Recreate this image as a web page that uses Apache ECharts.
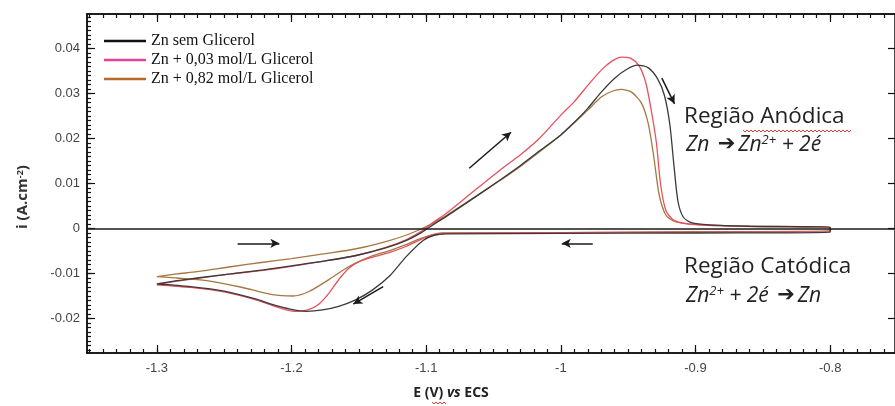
<!DOCTYPE html>
<html><head><meta charset="utf-8">
<script src="https://cdn.jsdelivr.net/npm/echarts@6/dist/echarts.min.js"></script>
<style>html,body{margin:0;padding:0;background:#fff}#c{width:895px;height:406px}</style>
</head><body><div id="c"></div>
<script>
// ---------- data ----------
const seriesNames = ['Zn sem Glicerol', 'Zn + 0,03 mol/L Glicerol', 'Zn + 0,82 mol/L Glicerol'];
const xTickLabels = [-1.3, -1.2, -1.1, -1.0, -0.9, -0.8];
const yTickLabels = [-0.02, -0.01, 0, 0.01, 0.02, 0.03, 0.04];

// Zn sem Glicerol : anodic (forward) sweep then cathodic (reverse) sweep  [E (V), i (A.cm-2)]
const blackForward = [
  [-1.300,-0.0123],[-1.285,-0.0116],[-1.270,-0.0110],[-1.245,-0.0101],[-1.221,-0.0092],
  [-1.200,-0.0083],[-1.175,-0.0072],[-1.152,-0.0060],[-1.130,-0.0043],[-1.115,-0.0027],
  [-1.103,-0.0008],[-1.095,0.0008],[-1.085,0.0027],[-1.070,0.0057],[-1.046,0.0106],
  [-1.030,0.0140],[-1.016,0.0172],[-1.000,0.0208],[-0.990,0.0236],[-0.980,0.0267],
  [-0.970,0.0303],[-0.960,0.0334],[-0.951,0.0354],[-0.943,0.0363],[-0.935,0.0357],
  [-0.928,0.0332],[-0.923,0.0295],[-0.919,0.0230],[-0.916,0.0140],[-0.913,0.0060],
  [-0.909,0.0025],[-0.903,0.0013],[-0.890,0.0008],[-0.860,0.0005],[-0.830,0.0004],[-0.800,0.0003]
];
const blackReverse = [
  [-0.800,-0.0009],[-0.900,-0.0010],[-1.000,-0.0011],[-1.085,-0.0012],[-1.094,-0.0015],
  [-1.102,-0.0026],[-1.115,-0.0063],[-1.127,-0.0105],[-1.140,-0.0137],[-1.152,-0.0158],
  [-1.165,-0.0173],[-1.177,-0.0181],[-1.189,-0.0184],[-1.201,-0.0179],[-1.215,-0.0168],
  [-1.226,-0.0157],[-1.250,-0.0139],[-1.275,-0.0129],[-1.300,-0.0123]
];
// Zn + 0,03 mol/L Glicerol
const redForward = [
  [-1.300,-0.0125],[-1.285,-0.0117],[-1.270,-0.0111],[-1.245,-0.0101],[-1.221,-0.0093],
  [-1.200,-0.0084],[-1.175,-0.0072],[-1.152,-0.0060],[-1.130,-0.0042],[-1.115,-0.0025],
  [-1.103,-0.0005],[-1.095,0.0013],[-1.085,0.0034],[-1.070,0.0070],[-1.046,0.0128],
  [-1.030,0.0164],[-1.016,0.0200],[-1.000,0.0252],[-0.990,0.0282],[-0.980,0.0318],
  [-0.970,0.0352],[-0.962,0.0372],[-0.955,0.0381],[-0.948,0.0378],[-0.942,0.0362],
  [-0.937,0.0325],[-0.933,0.0265],[-0.929,0.0190],[-0.926,0.0100],[-0.922,0.0040],
  [-0.916,0.0018],[-0.905,0.0010],[-0.880,0.0006],[-0.840,0.0004],[-0.800,0.0003]
];
const redReverse = [
  [-0.800,-0.0007],[-0.900,-0.0008],[-1.000,-0.0009],[-1.088,-0.0011],[-1.096,-0.0015],
  [-1.105,-0.0026],[-1.115,-0.0040],[-1.127,-0.0053],[-1.140,-0.0064],[-1.150,-0.0074],
  [-1.157,-0.0087],[-1.164,-0.0110],[-1.172,-0.0143],[-1.180,-0.0169],[-1.188,-0.0181],
  [-1.196,-0.0184],[-1.206,-0.0179],[-1.226,-0.0159],[-1.250,-0.0141],[-1.275,-0.0131],[-1.300,-0.0125]
];
// Zn + 0,82 mol/L Glicerol
const brownForward = [
  [-1.300,-0.0107],[-1.285,-0.0101],[-1.270,-0.0096],[-1.245,-0.0085],[-1.221,-0.0075],
  [-1.200,-0.0067],[-1.175,-0.0056],[-1.152,-0.0045],[-1.130,-0.0029],[-1.115,-0.0015],
  [-1.103,0.0000],[-1.095,0.0012],[-1.085,0.0029],[-1.070,0.0058],[-1.046,0.0105],
  [-1.030,0.0138],[-1.016,0.0170],[-1.000,0.0208],[-0.990,0.0235],[-0.980,0.0263],
  [-0.970,0.0292],[-0.962,0.0305],[-0.955,0.0309],[-0.947,0.0302],[-0.940,0.0278],
  [-0.935,0.0232],[-0.931,0.0160],[-0.927,0.0075],[-0.922,0.0030],[-0.915,0.0015],
  [-0.900,0.0009],[-0.860,0.0005],[-0.800,0.0003]
];
const brownReverse = [
  [-0.800,-0.0005],[-0.900,-0.0007],[-1.000,-0.0009],[-1.088,-0.0010],[-1.096,-0.0014],
  [-1.105,-0.0023],[-1.115,-0.0036],[-1.127,-0.0049],[-1.140,-0.0061],[-1.157,-0.0084],
  [-1.172,-0.0113],[-1.187,-0.0140],[-1.199,-0.0150],[-1.214,-0.0147],[-1.238,-0.0130],
  [-1.263,-0.0116],[-1.285,-0.0110],[-1.300,-0.0107]
];
// sweep-direction arrows [[E1,i1],[E2,i2]] (arrow head at the second point)
const sweepArrows = [
  [[-1.068, 0.0134], [-1.037, 0.0214]],
  [[-0.925, 0.0334], [-0.9156, 0.0277]],
  [[-1.240, -0.0033], [-1.209, -0.0033]],
  [[-0.9763, -0.0033], [-0.9993, -0.0033]],
  [[-1.1319, -0.0129], [-1.1541, -0.0168]]
];

// ---------- layout / style ----------
const X_MIN = -1.3 - 70 / 1350, X_MAX = -1.3 + 740 / 1350;
const Y_MIN = -0.02 - 34.5 / 4500, Y_MAX = 0.04 + 34.5 / 4500;
const lineColors = ['#3a3a3a', '#e8505e', '#a57840'];
const legendColors = ['#111111', '#e8409a', '#b8682a'];

const xMinor = []; for (let k = -135; k <= -76; k++) xMinor.push(k / 100);
const yMinor = []; for (let k = -27; k <= 47; k++) yMinor.push(k / 1000);
const fmt = v => String(+Number(v).toFixed(3));

const axisLineStyle = { color: '#111', width: 1.5 };
function xAx(pos, ticks, len, labels) {
  return {
    type: 'value', position: pos, min: X_MIN, max: X_MAX,
    axisLine: { show: true, onZero: false, lineStyle: axisLineStyle },
    axisTick: { show: true, inside: true, length: len, customValues: ticks, lineStyle: { color: '#111', width: 1.2 } },
    axisLabel: labels ? { show: true, customValues: xTickLabels, formatter: fmt, color: '#444',
      fontFamily: 'Liberation Sans, Arial', fontSize: 13, margin: 9 } : { show: false },
    splitLine: { show: false }
  };
}
function yAx(pos, ticks, len, labels) {
  return {
    type: 'value', position: pos, min: Y_MIN, max: Y_MAX,
    axisLine: { show: true, onZero: false, lineStyle: axisLineStyle },
    axisTick: { show: true, inside: true, length: len, customValues: ticks, lineStyle: { color: '#111', width: 1.2 } },
    axisLabel: labels ? { show: true, customValues: yTickLabels, formatter: fmt, color: '#444',
      fontFamily: 'Liberation Sans, Arial', fontSize: 13, margin: 7 } : { show: false },
    splitLine: { show: false }
  };
}

function wavy(x0, x1, y) {
  const pts = []; let up = true;
  for (let x = x0; x <= x1; x += 2) { pts.push([x, y + (up ? -1 : 1)]); up = !up; }
  return { type: 'polyline', shape: { points: pts }, style: { stroke: '#e03c3c', lineWidth: 1, fill: null }, silent: true };
}

const chart = echarts.init(document.getElementById('c'), null, { renderer: 'canvas' });
const curves = [blackForward.concat(blackReverse), redForward.concat(redReverse), brownForward.concat(brownReverse)];

const series = curves.map((d, k) => ({
  name: seriesNames[k], type: 'line', data: d, showSymbol: false, smooth: 0.25,
  lineStyle: { color: lineColors[k], width: 1.3 }, itemStyle: { color: lineColors[k] },
  z: 3 - k, animation: false
}));
series.push({
  name: 'annot', type: 'line', data: [], showSymbol: false, animation: false, silent: true,
  markLine: {
    silent: true, animation: false, symbol: 'none', label: { show: false },
    lineStyle: { color: '#1a1a1a', width: 1.6, type: 'solid' },
    data: [{ yAxis: 0 }]
  }
});
series.push({
  name: 'arrows', type: 'line', data: [], showSymbol: false, animation: false, silent: true,
  markLine: {
    silent: true, animation: false, symbol: ['none', 'arrow'], symbolSize: [7, 9], label: { show: false },
    lineStyle: { color: '#1a1a1a', width: 1.5, type: 'solid' },
    data: sweepArrows.map(a => [{ coord: a[0] }, { coord: a[1] }])
  }
});

const supStyle = { fontSize: 13, fontStyle: 'italic', fontFamily: 'Open Sans', verticalAlign: 'top', fill: '#222', padding: [0, 0, 9, 0] };
const arrStyle = { fontSize: 21, fontWeight: 'bold', fontFamily: 'DejaVu Sans', fill: '#222', padding: [0, 3, 0, 3] };
chart.setOption({
  animation: false,
  backgroundColor: '#fff',
  grid: { left: 87, top: 14, right: -2, bottom: 53, containLabel: false },
  xAxis: [xAx('bottom', xTickLabels, 8, true), xAx('bottom', xMinor, 4, false),
          xAx('top', xTickLabels, 8, false), xAx('top', xMinor, 4, false)],
  yAxis: [yAx('left', yTickLabels, 8, true), yAx('left', yMinor, 4, false),
          yAx('right', yTickLabels, 7, false)],
  legend: {
    orient: 'vertical', left: 99, top: 28, icon: 'rect', itemWidth: 42, itemHeight: 2.5, itemGap: 3,
    textStyle: { fontFamily: 'Liberation Serif, Times New Roman', fontSize: 16, color: '#111' },
    data: seriesNames.map((n, k) => ({ name: n, itemStyle: { color: legendColors[k] } }))
  },
  series: series,
  graphic: [
    { type: 'text', x: 23, y: 197, rotation: Math.PI / 2, silent: true,
      style: { text: 'i (A.cm{s|-2})', align: 'center', verticalAlign: 'middle',
        font: 'bold 15px "Open Sans"', fill: '#333',
        rich: { s: { fontSize: 9, fontWeight: 'bold', fontFamily: 'Open Sans', verticalAlign: 'top', fill: '#333', padding: [0, 0, 6, 0] } } } },
    { type: 'text', x: 451, y: 393, silent: true,
      style: { text: 'E (V) {i|vs} ECS', align: 'center', verticalAlign: 'middle',
        font: 'bold 14px "Open Sans"', fill: '#222',
        rich: { i: { fontStyle: 'italic', fontWeight: 'bold', fontSize: 14, fontFamily: 'Open Sans', fill: '#222' } } } },
    wavy(432, 446, 403),
    { type: 'text', x: 684, y: 117, silent: true,
      style: { text: 'Região Anódica', align: 'left', verticalAlign: 'middle', font: '22.5px "Open Sans"', fill: '#222' } },
    wavy(743, 851, 131),
    { type: 'text', x: 686, y: 145, silent: true,
      style: { text: 'Zn {a|\u2794}Zn{s|2+} + 2é', align: 'left', verticalAlign: 'middle', font: 'italic 21px "Open Sans"', fill: '#222',
        rich: { s: supStyle, a: arrStyle } } },
    { type: 'text', x: 684, y: 267, silent: true,
      style: { text: 'Região Catódica', align: 'left', verticalAlign: 'middle', font: '22.5px "Open Sans"', fill: '#222' } },
    { type: 'text', x: 686, y: 296, silent: true,
      style: { text: 'Zn{s|2+} + 2é {a|\u2794}Zn', align: 'left', verticalAlign: 'middle', font: 'italic 21px "Open Sans"', fill: '#222',
        rich: { s: supStyle, a: arrStyle } } }
  ]
});
</script></body></html>
